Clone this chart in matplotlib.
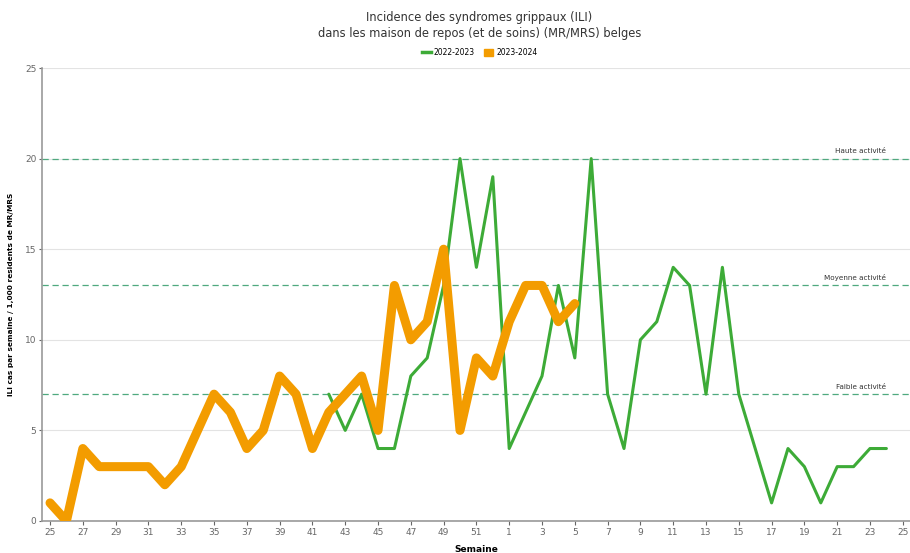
import matplotlib
matplotlib.use("Agg")
import matplotlib.pyplot as plt
from matplotlib.patches import Patch
from matplotlib.lines import Line2D
import numpy as np

# week categories (season runs from week 25 to week 25 of the next year)
weeks = [25, 26, 27, 28, 29, 30, 31, 32, 33, 34, 35, 36, 37, 38, 39, 40,
         41, 42, 43, 44, 45, 46, 47, 48, 49, 50, 51, 52,
         1, 2, 3, 4, 5, 6, 7, 8, 9, 10, 11, 12, 13, 14, 15, 16, 17, 18,
         19, 20, 21, 22, 23, 24, 25]

# 2022-2023 starts at week 42 and ends at week 24
ili_2022 = [None] * 17 + [7, 5, 7, 4, 4, 8, 9, 13, 20, 14, 19,
                          4, 6, 8, 13, 9, 20, 7, 4, 10, 11, 14, 13, 7, 14,
                          7, 4, 1, 4, 3, 1, 3, 3, 4, 4, None]
# 2023-2024 runs from week 25 to week 5
ili_2023 = [1, 0, 4, 3, 3, 3, 3, 2, 3, 5, 7, 6, 4, 5, 8, 7, 4, 6, 7, 8,
            5, 13, 10, 11, 15, 5, 9, 8,
            11, 13, 13, 11, 12] + [None] * 20

thresholds = [20, 13, 7]
threshold_labels = ["Haute activité", "Moyenne activité", "Faible activité"]

green = "#3dab37"
orange = "#f39c00"

x = np.arange(len(weeks))
y22 = np.array([np.nan if v is None else v for v in ili_2022], dtype=float)
y23 = np.array([np.nan if v is None else v for v in ili_2023], dtype=float)

fig = plt.figure(figsize=(9.1, 5.53), dpi=100)
ax = fig.add_axes([42 / 910, 32 / 553, 868 / 910, 453 / 553])

ax.set_xlim(-0.49, 52.44)
ax.set_ylim(0, 25)
ax.set_yticks([0, 5, 10, 15, 20, 25])
ax.grid(axis="y", color="#e3e3e3", linewidth=0.8)
ax.set_axisbelow(True)

for t, lab in zip(thresholds, threshold_labels):
    ax.axhline(t, color="#4fa97f", linestyle=(0, (5, 3)), linewidth=0.9, zorder=1)
    ax.text(51.0, t + 0.25, lab, ha="right", va="bottom", fontsize=5.2,
            color="#333333")

ax.plot(x, y22, color=green, linewidth=2.2, solid_joinstyle="round",
        solid_capstyle="round", zorder=3)
ax.plot(x, y23, color=orange, linewidth=6.5, solid_joinstyle="round",
        solid_capstyle="round", zorder=4)

ax.set_xticks(x[::2])
ax.set_xticklabels([str(w) for w in weeks[::2]])
ax.tick_params(axis="both", labelsize=6.5, colors="#666666", length=3,
               width=0.8, pad=2)
ax.tick_params(axis="y", length=2)

for s in ["top", "right"]:
    ax.spines[s].set_visible(False)
ax.spines["left"].set_color("#999999")
ax.spines["bottom"].set_color("#999999")
ax.spines["left"].set_linewidth(1.2)
ax.spines["bottom"].set_linewidth(1.2)

ax.set_xlabel("Semaine", fontsize=6.5, fontweight="bold", labelpad=6)
ax.set_ylabel("ILI cas par semaine / 1,000 residents de MR/MRS", fontsize=5.3,
              fontweight="bold", labelpad=8)

fig.text(0.527, 0.98, "Incidence des syndromes grippaux (ILI)\n"
         "dans les maison de repos (et de soins) (MR/MRS) belges",
         ha="center", va="top", fontsize=8.3, color="#333333",
         linespacing=1.3)

handles = [Line2D([0], [0], color=green, linewidth=2.5),
           Patch(facecolor=orange, edgecolor=orange)]
fig.legend(handles, ["2022-2023", "2023-2024"], loc="center",
           bbox_to_anchor=(0.527, 0.905), ncol=2, frameon=False,
           fontsize=5.5, handlelength=1.2, handleheight=0.9,
           columnspacing=1.2, handletextpad=0.4)

fig.savefig("out.png", dpi=100)
